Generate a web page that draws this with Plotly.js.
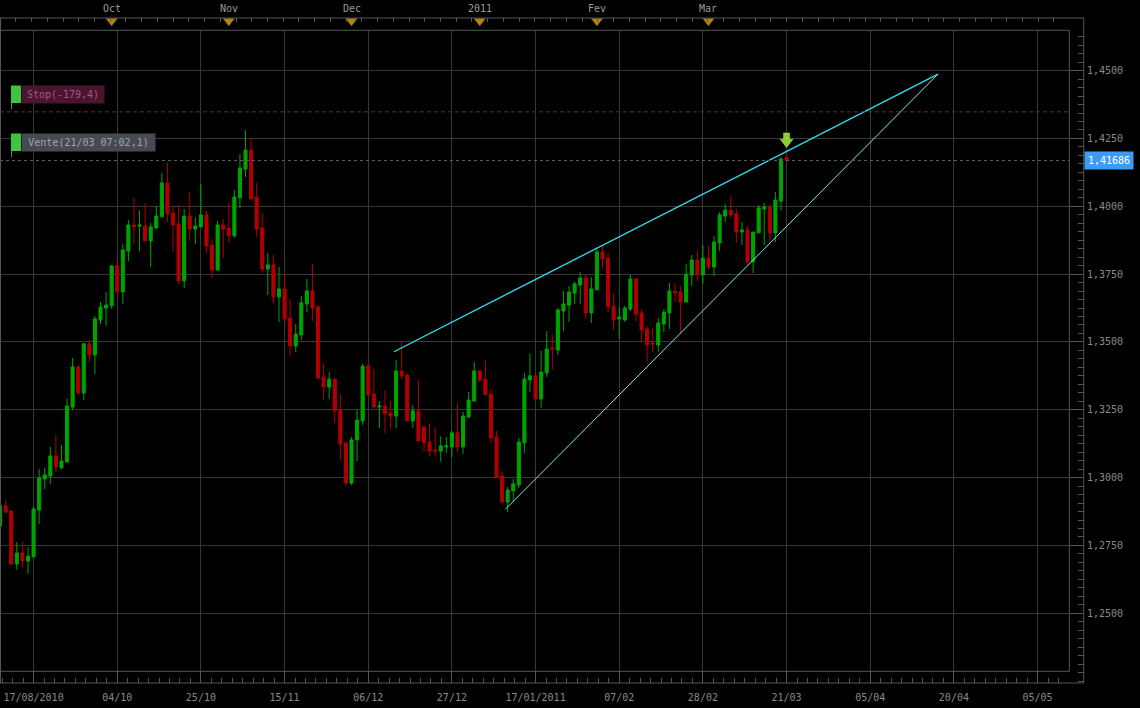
<!DOCTYPE html>
<html><head><meta charset="utf-8">
<script src="https://cdn.plot.ly/plotly-3.0.1.min.js"></script>
<style>html,body{margin:0;padding:0;background:#000;overflow:hidden}#chart{width:1140px;height:708px}</style>
</head><body><div id="chart"></div>
<script>
// ---- data (EUR/USD daily candles) ----
const opens = [1.2822,1.2896,1.2877,1.2682,1.2722,1.2693,1.2708,1.2881,1.2995,1.3006,
1.3080,1.3036,1.3058,1.3260,1.3408,1.3312,1.3493,1.3452,1.3581,1.3625,
1.3633,1.3780,1.3684,1.3835,1.3931,1.3927,1.3927,1.3872,1.3920,1.3961,
1.4086,1.3975,1.3935,1.3725,1.3964,1.3916,1.3924,1.3968,1.3857,1.3765,
1.3931,1.3920,1.3891,1.4031,1.4137,1.4207,1.4034,1.3920,1.3769,1.3784,
1.3666,1.3695,1.3588,1.3485,1.3526,1.3640,1.3688,1.3629,1.3371,1.3334,
1.3363,1.3249,1.3128,1.2980,1.3139,1.3209,1.3411,1.3308,1.3260,1.3264,
1.3238,1.3227,1.3393,1.3378,1.3209,1.3246,1.3187,1.3131,1.3102,1.3098,
1.3113,1.3113,1.3165,1.3113,1.3223,1.3282,1.3393,1.3363,1.3308,1.3150,
1.3006,1.2910,1.2951,1.2973,1.3128,1.3360,1.3375,1.3290,1.3386,1.3478,
1.3470,1.3614,1.3636,1.3680,1.3710,1.3736,1.3607,1.3692,1.3832,1.3809,
1.3632,1.3585,1.3581,1.3621,1.3732,1.3607,1.3548,1.3496,1.3489,1.3566,
1.3607,1.3688,1.3684,1.3647,1.3747,1.3802,1.3747,1.3809,1.3776,1.3865,
1.3964,1.3986,1.3972,1.3905,1.3913,1.3795,1.3902,1.3990,1.3997,1.3902,
1.4019,1.4180];
const highs = [1.2905,1.2918,1.2880,1.2763,1.2763,1.2744,1.2892,1.3032,1.3036,1.3113,
1.3157,1.3120,1.3290,1.3441,1.3415,1.3496,1.3507,1.3596,1.3647,1.3684,
1.3784,1.3809,1.3861,1.3950,1.4031,1.3986,1.4012,1.3938,1.4001,1.4123,
1.4160,1.4001,1.4005,1.3990,1.4053,1.3960,1.4082,1.3983,1.3879,1.3946,
1.3953,1.4012,1.4060,1.4193,1.4281,1.4252,1.4086,1.3975,1.3828,1.3820,
1.3776,1.3750,1.3658,1.3566,1.3669,1.3732,1.3787,1.3636,1.3422,1.3389,
1.3367,1.3305,1.3131,1.3150,1.3249,1.3419,1.3422,1.3400,1.3282,1.3323,
1.3282,1.3434,1.3500,1.3382,1.3268,1.3360,1.3190,1.3201,1.3183,1.3153,
1.3150,1.3172,1.3275,1.3242,1.3316,1.3426,1.3397,1.3434,1.3327,1.3172,
1.3024,1.2965,1.2995,1.3146,1.3386,1.3459,1.3378,1.3467,1.3540,1.3526,
1.3625,1.3688,1.3706,1.3721,1.3758,1.3747,1.3739,1.3843,1.3857,1.3828,
1.3680,1.3629,1.3632,1.3747,1.3736,1.3621,1.3559,1.3551,1.3588,1.3621,
1.3717,1.3717,1.3706,1.3787,1.3821,1.3839,1.3857,1.3854,1.3890,1.3979,
1.4008,1.4038,1.3990,1.3942,1.3927,1.3905,1.4005,1.4012,1.4008,1.4053,
1.4182,1.4200];
const lows = [1.2812,1.2868,1.2678,1.2661,1.2668,1.2645,1.2705,1.2829,1.2958,1.2977,
1.3021,1.3032,1.3058,1.3249,1.3305,1.3286,1.3426,1.3382,1.3566,1.3559,
1.3622,1.3669,1.3640,1.3798,1.3861,1.3835,1.3872,1.3776,1.3916,1.3961,
1.3942,1.3832,1.3714,1.3699,1.3872,1.3861,1.3924,1.3828,1.3736,1.3765,
1.3809,1.3865,1.3883,1.3994,1.4108,1.4023,1.3887,1.3754,1.3673,1.3640,
1.3574,1.3566,1.3448,1.3463,1.3507,1.3610,1.3577,1.3364,1.3286,1.3290,
1.3201,1.3065,1.2969,1.2973,1.3061,1.3194,1.3301,1.3260,1.3183,1.3164,
1.3179,1.3183,1.3364,1.3209,1.3183,1.3135,1.3094,1.3076,1.3080,1.3058,
1.3091,1.3076,1.3094,1.3087,1.3220,1.3282,1.3352,1.3305,1.3128,1.3002,
1.2903,1.2873,1.2914,1.2962,1.3091,1.3316,1.3286,1.3257,1.3371,1.3397,
1.3452,1.3540,1.3574,1.3640,1.3640,1.3585,1.3570,1.3692,1.3769,1.3610,
1.3544,1.3511,1.3574,1.3614,1.3577,1.3500,1.3430,1.3463,1.3463,1.3537,
1.3548,1.3647,1.3529,1.3647,1.3706,1.3725,1.3714,1.3765,1.3743,1.3835,
1.3942,1.3957,1.3865,1.3857,1.3783,1.3754,1.3902,1.3857,1.3865,1.3868,
1.3983,1.4160];
const closes = [1.2896,1.2873,1.2682,1.2722,1.2693,1.2711,1.2884,1.2999,1.3010,1.3080,
1.3039,1.3061,1.3264,1.3408,1.3312,1.3493,1.3452,1.3585,1.3629,1.3636,
1.3780,1.3684,1.3839,1.3931,1.3924,1.3931,1.3872,1.3924,1.3964,1.4086,
1.3972,1.3931,1.3725,1.3964,1.3916,1.3927,1.3968,1.3854,1.3765,1.3931,
1.3916,1.3891,1.4034,1.4141,1.4207,1.4027,1.3916,1.3769,1.3784,1.3666,
1.3695,1.3585,1.3485,1.3529,1.3644,1.3688,1.3625,1.3367,1.3334,1.3363,
1.3246,1.3124,1.2980,1.3139,1.3212,1.3411,1.3305,1.3260,1.3264,1.3235,
1.3227,1.3393,1.3375,1.3209,1.3246,1.3135,1.3128,1.3098,1.3098,1.3117,
1.3117,1.3165,1.3113,1.3227,1.3286,1.3393,1.3360,1.3305,1.3146,1.3002,
1.2910,1.2954,1.2977,1.3131,1.3363,1.3375,1.3290,1.3389,1.3474,1.3474,
1.3618,1.3640,1.3684,1.3714,1.3736,1.3607,1.3695,1.3832,1.3806,1.3629,
1.3581,1.3592,1.3625,1.3732,1.3603,1.3544,1.3489,1.3493,1.3570,1.3610,
1.3688,1.3680,1.3647,1.3750,1.3802,1.3747,1.3809,1.3776,1.3868,1.3968,
1.3986,1.3968,1.3905,1.3913,1.3795,1.3905,1.3994,1.3997,1.3902,1.4023,
1.4174,1.41686];

// axis ticks / labels
const gridIndex  = [6,21,36,51,66,81,96,111,126,141,156,171,186];
const tickLabels = ['17/08/2010','04/10','25/10','15/11','06/12','27/12','17/01/2011','07/02','28/02','21/03','05/04','20/04','05/05'];
const monthIndex  = [20,41,63,86,107,127];
const monthLabels = ['Oct','Nov','Dec','2011','Fev','Mar'];
const priceTicks  = [1.25,1.275,1.30,1.325,1.35,1.375,1.40,1.425,1.45];

// drawn objects
const upperTrendX = [70.62,168.15], upperTrendY = [1.3464,1.4487];
const lowerTrendX = [90.58,168.15], lowerTrendY = [1.2883,1.4487];
const entryLevel = 1.41686;
const stopLevel  = 1.4348;
const entryLabel = 'Vente(21/03 07:02,1)';
const signalIndex = [141];
const signalStemY = [1.4259];
const signalHeadY = [1.4237];

// ---- geometry ----
const W = 1140, H = 708;
const M = {l:0, r:56, t:18, b:25};
const PW = W - M.l - M.r, PH = H - M.t - M.b;   // 1084 x 665
const px = v => v / PW;
const py = v => (H - M.b - v) / PH;
const xDomRight = px(1069.3);
const yDomTop = py(30.3);
const xRange = [-0.018, 191.69];
const yRange = [1.224314, 1.464852];

const idx = closes.map((_, i) => i);
const mono = 'DejaVu Sans Mono, monospace';
const frameCol = '#565656';

const traces = [
  {type:'candlestick', x:idx, open:opens, high:highs, low:lows, close:closes,
   increasing:{line:{color:'#00a400', width:1}, fillcolor:'#00a400'},
   decreasing:{line:{color:'#b00000', width:1}, fillcolor:'#b00000'},
   whiskerwidth:0, hoverinfo:'skip', showlegend:false, xaxis:'x', yaxis:'y'},
  {type:'scatter', mode:'lines', x:upperTrendX, y:upperTrendY,
   line:{color:'#2fe0ee', width:1.3}, hoverinfo:'skip', xaxis:'x', yaxis:'y'},
  {type:'scatter', mode:'lines', x:lowerTrendX, y:lowerTrendY,
   line:{color:'#7eeaf2', width:1}, hoverinfo:'skip', xaxis:'x', yaxis:'y'},
  {type:'scatter', mode:'lines', x:[xRange[0], xRange[1]], y:[stopLevel, stopLevel],
   line:{color:'#6a2447', width:1, dash:'4px,3px'}, hoverinfo:'skip', xaxis:'x', yaxis:'y'},
  {type:'scatter', mode:'lines', x:[xRange[0], xRange[1]], y:[entryLevel, entryLevel],
   line:{color:'#5e5e5e', width:1, dash:'3px,3px'}, hoverinfo:'skip', xaxis:'x', yaxis:'y'},
  // signal arrow (stem + head)
  {type:'scatter', mode:'markers', x:signalIndex, y:signalStemY,
   marker:{symbol:'square', size:6, color:'#86cf2e', line:{color:'#b6ee6a', width:0.5}},
   hoverinfo:'skip', xaxis:'x', yaxis:'y'},
  {type:'scatter', mode:'markers', x:signalIndex, y:signalHeadY,
   marker:{symbol:'triangle-down', size:11, color:'#86cf2e', line:{color:'#b6ee6a', width:0.5}},
   hoverinfo:'skip', xaxis:'x', yaxis:'y'},
  // right price axis carrier
  {type:'scatter', mode:'markers', x:[idx[idx.length-1]], y:[closes[closes.length-1]],
   marker:{opacity:0}, hoverinfo:'skip', xaxis:'x', yaxis:'y2'},
  // month markers on top band
  {type:'scatter', mode:'markers', x:monthIndex, y:monthIndex.map(() => 0.75),
   marker:{symbol:'triangle-down', size:10, color:'#b7860f', line:{color:'#7a5a08', width:0.5}},
   hoverinfo:'skip', xaxis:'x3', yaxis:'y3'}
];

const shapes = [
  // frame
  {type:'line', xref:'paper', yref:'paper', x0:0, x1:1, y0:1, y1:1, line:{color:frameCol, width:1}},
  {type:'line', xref:'paper', yref:'paper', x0:0, x1:xDomRight, y0:yDomTop, y1:yDomTop, line:{color:frameCol, width:1}},
  {type:'line', xref:'paper', yref:'paper', x0:0, x1:xDomRight, y0:py(671.3), y1:py(671.3), line:{color:frameCol, width:1}},
  {type:'line', xref:'paper', yref:'paper', x0:xDomRight, x1:xDomRight, y0:py(671.3), y1:yDomTop, line:{color:frameCol, width:1}},
  {type:'line', xref:'paper', yref:'paper', x0:px(1083.7), x1:px(1083.7), y0:0, y1:1, line:{color:frameCol, width:1}},
  {type:'line', xref:'paper', yref:'paper', x0:0, x1:px(1083.7), y0:0, y1:0, line:{color:frameCol, width:1}},
  {type:'line', xref:'paper', yref:'paper', x0:px(0.5), x1:px(0.5), y0:0, y1:1, line:{color:frameCol, width:1}},
  // order label tags
  {type:'rect', xref:'paper', yref:'paper', x0:px(11), x1:px(21), y0:py(103), y1:py(85.5), fillcolor:'#3fc43f', line:{width:0}},
  {type:'rect', xref:'paper', yref:'paper', x0:px(11), x1:px(21), y0:py(151), y1:py(133.5), fillcolor:'#3fc43f', line:{width:0}},
  {type:'line', xref:'paper', yref:'paper', x0:px(11.5), x1:px(11.5), y0:py(103), y1:py(109), line:{color:'#777', width:1}},
  {type:'line', xref:'paper', yref:'paper', x0:px(11.5), x1:px(11.5), y0:py(151), y1:py(157), line:{color:'#777', width:1}}
];

const stopPips = ((entryLevel - stopLevel) * 10000).toFixed(1).replace('.', ',');
const annotations = [
  {xref:'paper', yref:'paper', x:px(21), y:py(94.2), xanchor:'left', yanchor:'middle',
   text:'Stop(' + stopPips + ')', showarrow:false, bgcolor:'#4a1531', width:82, height:17, borderpad:0,
   font:{family:mono, size:10, color:'#a55a7f'}},
  {xref:'paper', yref:'paper', x:px(21), y:py(142.2), xanchor:'left', yanchor:'middle',
   text:entryLabel, showarrow:false, bgcolor:'#474a52', width:133, height:17, borderpad:0,
   font:{family:mono, size:10, color:'#a3a4aa'}},
  {xref:'paper', yref:'y', x:1, y:entryLevel, xanchor:'left', yanchor:'middle',
   text:entryLevel.toFixed(5).replace('.', ','), showarrow:false, bgcolor:'#3d9bf3',
   width:44, height:13, borderpad:2, font:{family:mono, size:10, color:'#ffffff'}}
].concat(monthIndex.map((m, k) => ({
   xref:'x3', yref:'paper', x:m, y:py(9), xanchor:'center', yanchor:'middle',
   text:monthLabels[k], showarrow:false, font:{family:mono, size:10, color:'#9a9a9a'}})));

const layout = {
  width:W, height:H, margin:M, paper_bgcolor:'#000', plot_bgcolor:'#000',
  showlegend:false, hovermode:false, dragmode:false, separators:',.', boxgap:0.45, boxgroupgap:0,
  xaxis:{domain:[0, xDomRight], range:xRange, anchor:'y', type:'linear',
    tickmode:'array', tickvals:gridIndex, ticktext:tickLabels,
    ticks:'inside', ticklen:12, tickcolor:frameCol, tickwidth:1,
    minor:{ticks:'inside', ticklen:5, tickcolor:frameCol, tick0:6, dtick:1.875, showgrid:false},
    showgrid:true, gridcolor:'#383838', gridwidth:1, zeroline:false, showline:false,
    tickfont:{family:mono, size:10, color:'#8a8a8a'}, ticklabelstandoff:7,
    rangeslider:{visible:false}, fixedrange:true},
  yaxis:{domain:[0, yDomTop], range:yRange, anchor:'x', tickmode:'array', tickvals:priceTicks,
    showticklabels:false, ticks:'', showgrid:true, gridcolor:'#383838', gridwidth:1,
    zeroline:false, showline:false, fixedrange:true},
  yaxis2:{overlaying:'y', anchor:'free', position:1, side:'right', range:yRange,
    tickmode:'array', tickvals:priceTicks, tickformat:'.4f',
    ticks:'inside', ticklen:14, tickcolor:frameCol, tickwidth:1,
    minor:{ticks:'inside', ticklen:6, tickcolor:frameCol, tick0:1.25, dtick:0.003125, showgrid:false},
    showgrid:false, zeroline:false, showline:false, ticklabelstandoff:2,
    tickfont:{family:mono, size:10, color:'#8a8a8a'}, fixedrange:true},
  xaxis3:{domain:[0, xDomRight], range:xRange, anchor:'y3', side:'top', type:'linear',
    tickmode:'linear', tick0:0, dtick:2.82, ticks:'inside', ticklen:4, tickcolor:frameCol,
    showticklabels:false, showgrid:false, zeroline:false, showline:false, fixedrange:true},
  yaxis3:{domain:[yDomTop, 1], range:[0, 1], anchor:'x3', showticklabels:false, ticks:'',
    showgrid:false, zeroline:false, showline:false, fixedrange:true},
  shapes:shapes, annotations:annotations
};

Plotly.newPlot('chart', traces, layout, {displayModeBar:false, staticPlot:true});
</script></body></html>
